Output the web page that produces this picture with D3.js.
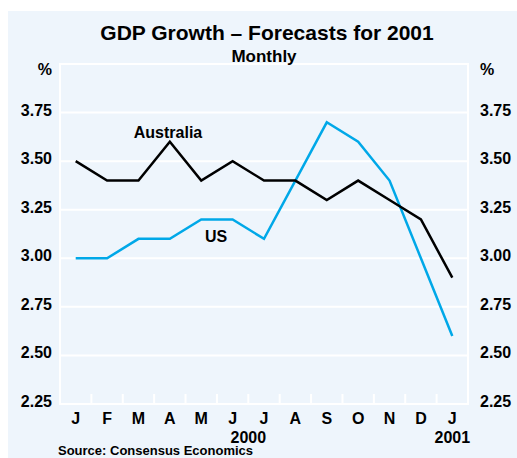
<!DOCTYPE html>
<html>
<head>
<meta charset="utf-8">
<script src="https://cdn.jsdelivr.net/npm/d3@7"></script>
<style>
  body { margin: 0; background: #fff; }
  text { font-family: "Liberation Sans", Arial, sans-serif; font-weight: bold; fill: #000; }
</style>
</head>
<body>
<div id="chart"></div>
<script>
// monthly forecasts of 2001 GDP growth
var months = ["J", "F", "M", "A", "M", "J", "J", "A", "S", "O", "N", "D", "J"];
var australia = [3.5, 3.4, 3.4, 3.6, 3.4, 3.5, 3.4, 3.4, 3.3, 3.4, 3.3, 3.2, 2.9];
var us = [3.0, 3.0, 3.1, 3.1, 3.2, 3.2, 3.1, 3.4, 3.7, 3.6, 3.4, 3.0, 2.6];
var yTicks = [2.25, 2.50, 2.75, 3.00, 3.25, 3.50, 3.75];
var years = [{ label: "2000", at: 5.5 }, { label: "2001", at: 12 }];

var W = 517, H = 458;
var plotLeft = 60, plotRight = 468, plotTop = 64, plotBottom = 404;

var svg = d3.select("#chart").append("svg")
    .attr("width", W)
    .attr("height", H);

// panel background
svg.append("rect")
    .attr("x", 8).attr("y", 11)
    .attr("width", W - 8).attr("height", H - 11)
    .attr("fill", "#eef5fc");

var x = d3.scaleBand()
    .domain(d3.range(months.length))
    .range([plotLeft, plotRight]);

var y = d3.scaleLinear()
    .domain([2.25, 4.0])
    .range([plotBottom, plotTop]);

function cx(i) { return x(i) + x.bandwidth() / 2; }

// gridlines
svg.append("g")
  .selectAll("line")
  .data(yTicks.slice(1))
  .enter().append("line")
    .attr("x1", plotLeft).attr("x2", plotRight)
    .attr("y1", function(d) { return y(d); })
    .attr("y2", function(d) { return y(d); })
    .attr("stroke", "#fff")
    .attr("stroke-width", 2);

// frame
svg.append("rect")
    .attr("x", plotLeft).attr("y", plotTop)
    .attr("width", plotRight - plotLeft).attr("height", plotBottom - plotTop)
    .attr("fill", "none")
    .attr("stroke", "#fff")
    .attr("stroke-width", 2);

// month ticks between bands
svg.append("g")
  .selectAll("line")
  .data(d3.range(1, months.length))
  .enter().append("line")
    .attr("x1", function(d) { return x(d); })
    .attr("x2", function(d) { return x(d); })
    .attr("y1", plotBottom).attr("y2", plotBottom - 10)
    .attr("stroke", "#fff")
    .attr("stroke-width", 2);

// y labels on both sides
svg.append("g")
  .selectAll("text")
  .data(yTicks)
  .enter().append("text")
    .attr("x", 52)
    .attr("y", function(d) { return y(d) + 3; })
    .attr("text-anchor", "end")
    .style("font-size", "16px")
    .text(function(d) { return d.toFixed(2); });

svg.append("g")
  .selectAll("text")
  .data(yTicks)
  .enter().append("text")
    .attr("x", 480)
    .attr("y", function(d) { return y(d) + 3; })
    .style("font-size", "16px")
    .text(function(d) { return d.toFixed(2); });

svg.append("text").attr("x", 52).attr("y", 75).attr("text-anchor", "end")
    .style("font-size", "16px").text("%");
svg.append("text").attr("x", 480).attr("y", 75)
    .style("font-size", "16px").text("%");

// x labels
svg.append("g")
  .selectAll("text")
  .data(months)
  .enter().append("text")
    .attr("x", function(d, i) { return cx(i); })
    .attr("y", 424)
    .attr("text-anchor", "middle")
    .style("font-size", "16px")
    .text(function(d) { return d; });

svg.append("g")
  .selectAll("text")
  .data(years)
  .enter().append("text")
    .attr("x", function(d) { return x(0) + x.bandwidth() * (d.at + 0.5); })
    .attr("y", 443)
    .attr("text-anchor", "middle")
    .style("font-size", "16px")
    .text(function(d) { return d.label; });

// lines
var line = d3.line()
    .x(function(d, i) { return cx(i); })
    .y(function(d) { return y(d); });

svg.append("path")
    .datum(us)
    .attr("d", line)
    .attr("fill", "none")
    .attr("stroke", "#00a8e8")
    .attr("stroke-width", 2.5);

svg.append("path")
    .datum(australia)
    .attr("d", line)
    .attr("fill", "none")
    .attr("stroke", "#000")
    .attr("stroke-width", 2.5);

// series labels
svg.append("text").attr("x", 168).attr("y", 138).attr("text-anchor", "middle")
    .style("font-size", "16px").text("Australia");
svg.append("text").attr("x", 216).attr("y", 242).attr("text-anchor", "middle")
    .style("font-size", "16px").text("US");

// titles
svg.append("text").attr("x", 267).attr("y", 40).attr("text-anchor", "middle")
    .style("font-size", "21px").text("GDP Growth \u2013 Forecasts for 2001");
svg.append("text").attr("x", 264).attr("y", 62).attr("text-anchor", "middle")
    .style("font-size", "17px").text("Monthly");

svg.append("text").attr("x", 58).attr("y", 455)
    .style("font-size", "13px").text("Source: Consensus Economics");
</script>
</body>
</html>
